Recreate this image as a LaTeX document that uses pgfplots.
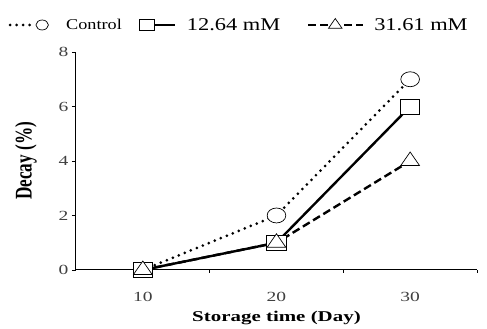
\documentclass[border=0pt]{standalone}
\usepackage{pgfplots}
\pgfplotsset{compat=1.18}
\usepackage{fontspec}
\setmainfont[FakeStretch=1.4]{Liberation Serif}
\newfontfamily\wfont[FakeStretch=1.4]{Liberation Serif}
\newfontfamily\plainfont{Liberation Serif}
\newfontfamily\ylabfont[FakeStretch=0.72]{Liberation Serif}
\begin{document}
\begin{tikzpicture}
\begin{axis}[
 scale only axis, width=401bp, height=218bp,
 xmin=0.5, xmax=3.5, ymin=0, ymax=8,
 axis x line=bottom, axis y line=left,
 axis line style={-, line width=1pt},
 xtick={1,2,3}, xticklabels={10,20,30},
 major x tick style={draw=none},
 minor xtick={1.5,2.5,3.5},
 minor x tick style={black, line width=0.8pt},
 ytick={0,2,4,6,8},
 major y tick style={black, line width=0.8pt},
 tick align=outside,
 major tick length=4bp, minor tick length=3bp,
 /pgf/number format/assume math mode=true,
 ticklabel style={font=\wfont\fontsize{14}{14}\selectfont, text=black!75},
 xticklabel style={anchor=center, yshift=-23bp},
 xlabel={\wfont\fontsize{15}{15}\selectfont\bfseries Storage time (Day)},
 xlabel style={at={(axis description cs:0.5,0)}, anchor=center, yshift=-48bp},
 ylabel={\ylabfont\bfseries\fontsize{24}{24}\selectfont Decay (\%)},
 ylabel style={at={(axis description cs:-0.1247,0.5)}, anchor=center},
 legend columns=3,
 legend style={draw=none, inner sep=0pt, column sep=0pt,
   at={(axis description cs:0,1)}, anchor=west,
   xshift=-68bp, yshift=27bp, font=\plainfont\fontsize{18}{18}\selectfont},
 legend cell align=left,
 clip=false,
]
\path (axis description cs:-0.1895,-0.257) rectangle (axis description cs:1.025,1.2385);
\addplot[black, line width=3pt, dash pattern=on 0pt off 6.5pt, line cap=round,
  mark=*, mark size=7.5pt, mark options={solid, fill=white, draw=black, line width=0.7pt, xscale=1.25},
  legend image code/.code={
    \path[draw=none,fill=none] (0bp,0bp) -- (56bp,0bp);
    \draw (2bp,0bp) -- (27bp,0bp);
    \draw[mark size=5pt] plot coordinates {(34bp,0bp)};}]
  coordinates {(1,0) (2,2) (3,7)};
\addlegendentry{\scalebox{1.22}[1]{\plainfont\fontsize{15}{15}\selectfont Control}}
\addplot[black, line width=2.4pt,
  mark=square*, mark size=7.5pt, mark options={solid, fill=white, draw=black, line width=0.9pt, xscale=1.3},
  legend image code/.code={
    \path[draw=none,fill=none] (0bp,0bp) -- (61bp,0bp);
    \draw (23bp,0bp) -- (51bp,0bp);
    \draw[mark size=5.5pt] plot coordinates {(23bp,0bp)};}]
  coordinates {(1,0) (2,1) (3,6)};
\addlegendentry{\scalebox{1.25}[1]{12.64 mM}}
\addplot[black, line width=2.4pt, dash pattern=on 8pt off 4pt,
  mark=triangle*, mark size=9pt, mark options={solid, fill=white, draw=black, line width=0.7pt, xscale=1.2},
  legend image code/.code={
    \path[draw=none,fill=none] (0bp,0bp) -- (90bp,0bp);
    \draw (26bp,0bp) -- (81bp,0bp);
    \draw[mark size=6.5pt] plot coordinates {(53bp,0bp)};}]
  coordinates {(1,0) (2,1) (3,4)};
\addlegendentry{\scalebox{1.25}[1]{31.61 mM}}
\end{axis}
\end{tikzpicture}
\end{document}
